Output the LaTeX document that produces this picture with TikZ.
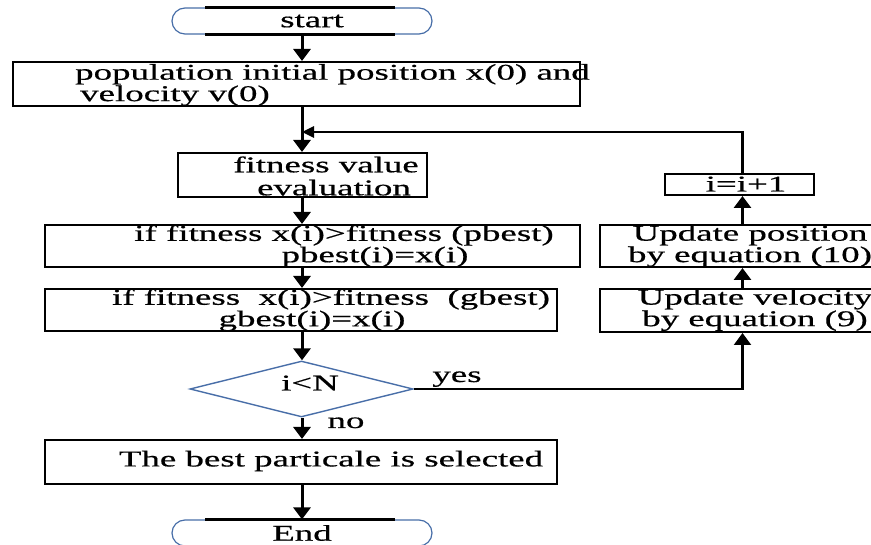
\documentclass[tikz,border=0pt]{standalone}
\usepackage{fontspec}
\setmainfont[FakeStretch=1.64,FakeBold=0.6]{Liberation Serif}
\usetikzlibrary{arrows.meta,shapes.geometric,shapes.misc}
\definecolor{termblue}{RGB}{72,110,168}

\begin{document}
\begin{tikzpicture}[x=1pt, y=-1pt,
    font=\fontsize{22.5}{18}\selectfont,
    box/.style={draw, line width=2pt, inner sep=0pt},
    term/.style={rounded rectangle, draw=termblue, line width=1.2pt, inner sep=0pt,
        minimum width=260pt, minimum height=26pt},
    capline/.style={line width=2.6pt},
    cond/.style={diamond, draw=termblue, line width=1.4pt, inner sep=0pt},
    txt/.style={inner sep=0pt, align=center},
    flow/.style={line width=3pt, -{Triangle[width=17pt,length=12pt]}},
    back/.style={line width=2.6pt, -{Triangle[width=11pt,length=12pt]}}]
    \useasboundingbox (0,0) rectangle (871,545);

    \node[term] (start) at (302,21) {\hspace*{20pt}start};
    \node[box, minimum width=567pt, minimum height=44pt] (init) at (296.5,84) {};
    \node[box, minimum width=249pt, minimum height=44pt] (fit) at (302.5,175) {};
    \node[box, minimum width=535pt, minimum height=42pt] (pb) at (312.5,246) {};
    \node[box, minimum width=512pt, minimum height=42pt] (gb) at (301,310) {};
    \node[cond, minimum width=223pt, minimum height=56pt] (cmp) at (301.5,389) {};
    \node[box, minimum width=512pt, minimum height=44pt] (best) at (301,462) {};
    \node[term] (end) at (302,533) {End};
    \node[box, minimum width=285pt, minimum height=43pt] (vel) at (742.5,310.5) {};
    \node[box, minimum width=285pt, minimum height=42pt] (pos) at (742.5,246) {};
    \node[box, minimum width=149pt, minimum height=21pt] (inc) at (739.5,184.5) {};
    \coordinate (join) at (302,132);

    \node[txt, align=left, anchor=west] (tinit) at (75,85)
        {population initial position x(0) and\\\hspace*{5pt}velocity v(0)};
    \node[txt] (tfit) at (326,176) {fitness value\\[5pt]\hspace*{16pt}evaluation};
    \node[txt] (tpb) at (344,246) {if fitness x(i)>fitness (pbest)\\\hspace*{62pt}pbest(i)=x(i)};
    \node[txt] (tgb) at (331,310) {if fitness\ \ x(i)>fitness\ \ (gbest)\\gbest(i)=x(i)\hspace*{38pt}};
    \node[txt] (tcmp) at (310,383) {i<N};
    \node[txt] (tbest) at (331,461) {The best particale is selected};
    \node[txt] (tvel) at (755,310) {Update velocity\\by equation (9)};
    \node[txt] (tpos) at (750,246) {Update position\\by equation (10)};
    \node[txt] (tinc) at (746,184) {i=i+1};
    \node[txt, anchor=base] (yes) at (457,382) {yes};
    \node[txt, anchor=base] (no) at (346,428) {no};

    \foreach \t in {start,end} {
        \draw[capline] ([xshift=20pt]\t.north west) -- ([xshift=-24pt]\t.north east);
        \draw[capline] ([xshift=20pt]\t.south west) -- ([xshift=-24pt]\t.south east);
    }
    \foreach \a/\b in {start/init, init/fit, fit/pb, pb/gb, gb/cmp, cmp/best, best/end}
    \draw[flow] (\a.south -| start) -- (\b.north -| start);
    \draw[flow, line width=2.2pt] (cmp.east) -| (vel.south);
    \draw[flow] (vel.north) -- (pos.south);
    \draw[flow] (pos.north) -- (pos.north |- inc.south);
    \draw[back] (pos.north |- inc.north) |- (join);
\end{tikzpicture}
\end{document}
